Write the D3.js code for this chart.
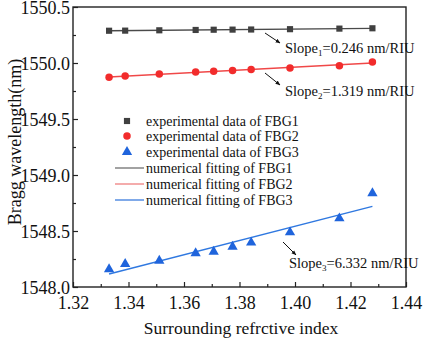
<!DOCTYPE html>
<html lang="en">
    <head>
        <meta charset="utf-8">
        <title>fbg_sensitivity</title>
        <script type="text/javascript" src="https://cdn.jsdelivr.net/npm/d3@7"></script>
        <style>
            body { margin: 0; background: #fff; }
        </style>
    </head>

    <body>
        <script type="text/javascript">
        var w = 425;
        var h = 340;
        var margin = {top: 7, right: 16, bottom: 53, left: 73};
        var serif = "'Liberation Serif', 'Times New Roman', serif";

        // surrounding refractive index
        var ri = [1.3330, 1.3388, 1.3511, 1.3642, 1.3707, 1.3775, 1.3842, 1.3982, 1.4160, 1.4279];

        // bragg wavelengths (nm)
        var fbg1 = [1550.288, 1550.289, 1550.292, 1550.295, 1550.297, 1550.298, 1550.299, 1550.302, 1550.307, 1550.310];
        var fbg2 = [1549.872, 1549.884, 1549.902, 1549.920, 1549.926, 1549.932, 1549.941, 1549.955, 1549.976, 1550.009];
        var fbg3 = [1548.158, 1548.205, 1548.235, 1548.301, 1548.315, 1548.360, 1548.396, 1548.488, 1548.613, 1548.837];

        var xTicks = [1.32, 1.34, 1.36, 1.38, 1.40, 1.42, 1.44];
        var yTicks = [1548.0, 1548.5, 1549.0, 1549.5, 1550.0, 1550.5];

        var slopeLabels = ["0.246", "1.319", "6.332"];
        var legendLabels = ["experimental data of FBG1", "experimental data of FBG2", "experimental data of FBG3",
                            "numerical fitting of FBG1", "numerical fitting of FBG2", "numerical fitting of FBG3"];

        var markColor = ["#404040", "#f22c2c", "#1f64dc"];
        var lineColor = ["#4a4a4a", "#f04848", "#2f78e0"];
        var legendLineColor = ["#7a7a7a", "#f08888", "#4a86e0"];

        var xScale = d3.scaleLinear().domain([1.32, 1.44]).range([margin.left, w - margin.right - 3]);
        var yScale = d3.scaleLinear().domain([1548.0, 1550.5]).range([h - margin.bottom, margin.top]);

        var svg = d3.select("body").append("svg").attr("width", w).attr("height", h)
                    .style("font-family", serif);

        // least squares fit, same as origin's linear fit
        function fit(ys) {
            var mx = d3.mean(ri), my = d3.mean(ys);
            var num = d3.sum(ri, function(x, i){ return (x - mx) * (ys[i] - my); });
            var den = d3.sum(ri, function(x){ return (x - mx) * (x - mx); });
            var k = num / den;
            var x0 = ri[0], x1 = ri[ri.length - 1];
            return [[x0, my + k * (x0 - mx)], [x1, my + k * (x1 - mx)]];
        }

        var series = [fbg1, fbg2, fbg3];
        var line = d3.line().x(function(d){ return xScale(d[0]); }).y(function(d){ return yScale(d[1]); });

        // fitting lines
        series.forEach(function(s, i) {
            svg.append("path")
                .attr("d", line(fit(s)))
                .attr("fill", "none")
                .attr("stroke", lineColor[i])
                .attr("stroke-width", 1.4);
        });

        var symbols = [d3.symbolSquare, d3.symbolCircle, d3.symbolTriangle];
        var symSize = [38, 44, 46];

        series.forEach(function(s, i) {
            svg.append("g").selectAll("path")
                .data(s)
                .enter()
                .append("path")
                .attr("d", d3.symbol().type(symbols[i]).size(symSize[i]))
                .attr("transform", function(d, j){
                    return "translate(" + xScale(ri[j]) + "," + yScale(d) + ")";
                })
                .attr("fill", markColor[i]);
        });

        // axes, ticks inward
        var x0 = margin.left, x1 = w - margin.right - 3;
        var y0 = margin.top, y1 = h - margin.bottom;

        var xAxis = d3.axisBottom(xScale).tickValues(xTicks).tickSize(-5).tickFormat(d3.format(".2f"));
        var gx = svg.append("g").attr("transform", "translate(0," + y1 + ")").call(xAxis);
        gx.selectAll("text").attr("dy", "1.05em").attr("y", 3);

        var xMinor = d3.axisBottom(xScale).tickValues(d3.range(1.33, 1.44, 0.02)).tickSize(-3).tickFormat("");
        svg.append("g").attr("transform", "translate(0," + y1 + ")").call(xMinor);

        var yAxis = d3.axisLeft(yScale).tickValues(yTicks).tickSize(-5).tickFormat(d3.format(".1f"));
        var gy = svg.append("g").attr("transform", "translate(" + x0 + ",0)").call(yAxis);
        gy.selectAll("text").attr("x", -3).attr("dy", "0.36em");

        var yMinor = d3.axisLeft(yScale).tickValues(d3.range(1548.25, 1550.5, 0.5)).tickSize(-3).tickFormat("");
        svg.append("g").attr("transform", "translate(" + x0 + ",0)").call(yMinor);

        svg.selectAll(".tick text")
            .attr("fill", "#111")
            .style("font-family", serif)
            .style("font-size", "18px");

        svg.selectAll(".domain").remove();
        svg.selectAll(".tick line").attr("stroke", "#222").attr("stroke-width", 1.2);

        // frame
        svg.append("rect")
            .attr("x", x0).attr("y", y0)
            .attr("width", x1 - x0).attr("height", y1 - y0)
            .attr("fill", "none").attr("stroke", "#222").attr("stroke-width", 1.4);

        // axis titles
        svg.append("text")
            .attr("x", 241).attr("y", 334)
            .attr("text-anchor", "middle")
            .attr("fill", "#111")
            .style("font-size", "17.5px")
            .text("Surrounding refrctive index");

        svg.append("text")
            .attr("transform", "translate(21,142) rotate(-90)")
            .attr("text-anchor", "middle")
            .attr("fill", "#111")
            .style("font-size", "18px")
            .text("Bragg wavelength(nm)");

        // legend
        var legY = [121, 136, 152, 168, 184, 200];
        var leg = svg.append("g");
        legendLabels.forEach(function(t, i) {
            var k = i % 3;
            if (i < 3) {
                leg.append("path")
                    .attr("d", d3.symbol().type(symbols[k]).size(symSize[k]))
                    .attr("transform", "translate(127," + legY[i] + ")")
                    .attr("fill", markColor[k]);
            } else {
                leg.append("line")
                    .attr("x1", 115).attr("x2", 144)
                    .attr("y1", legY[i]).attr("y2", legY[i])
                    .attr("stroke", legendLineColor[k]).attr("stroke-width", 1.4);
            }
            leg.append("text")
                .attr("x", 146).attr("y", legY[i] + 4.5)
                .attr("fill", "#111")
                .style("font-size", "14px")
                .text(t);
        });

        // slope annotations with arrows
        var notes = [
            {x: 285, y: 53, ax: [265, 33, 280, 43]},
            {x: 285, y: 96, ax: [265, 73, 280, 85]},
            {x: 289, y: 268, ax: [283, 242, 296, 255]}
        ];
        svg.append("defs").append("marker")
            .attr("id", "ah").attr("viewBox", "0 0 10 10")
            .attr("refX", 9).attr("refY", 5)
            .attr("markerWidth", 5).attr("markerHeight", 5)
            .attr("orient", "auto")
            .append("path").attr("d", "M0,1 L10,5 L0,9 z").attr("fill", "#111");

        notes.forEach(function(n, i) {
            svg.append("line")
                .attr("x1", n.ax[0]).attr("y1", n.ax[1])
                .attr("x2", n.ax[2]).attr("y2", n.ax[3])
                .attr("stroke", "#111").attr("stroke-width", 1)
                .attr("marker-end", "url(#ah)");
            var t = svg.append("text").attr("x", n.x).attr("y", n.y)
                        .attr("fill", "#111").style("font-size", "14.5px");
            t.append("tspan").text("Slope");
            t.append("tspan").attr("dy", 3).style("font-size", "9px").text(i + 1);
            t.append("tspan").attr("dy", -3).text("=" + slopeLabels[i] + " nm/RIU");
        });

        </script>
    </body>
</html>
